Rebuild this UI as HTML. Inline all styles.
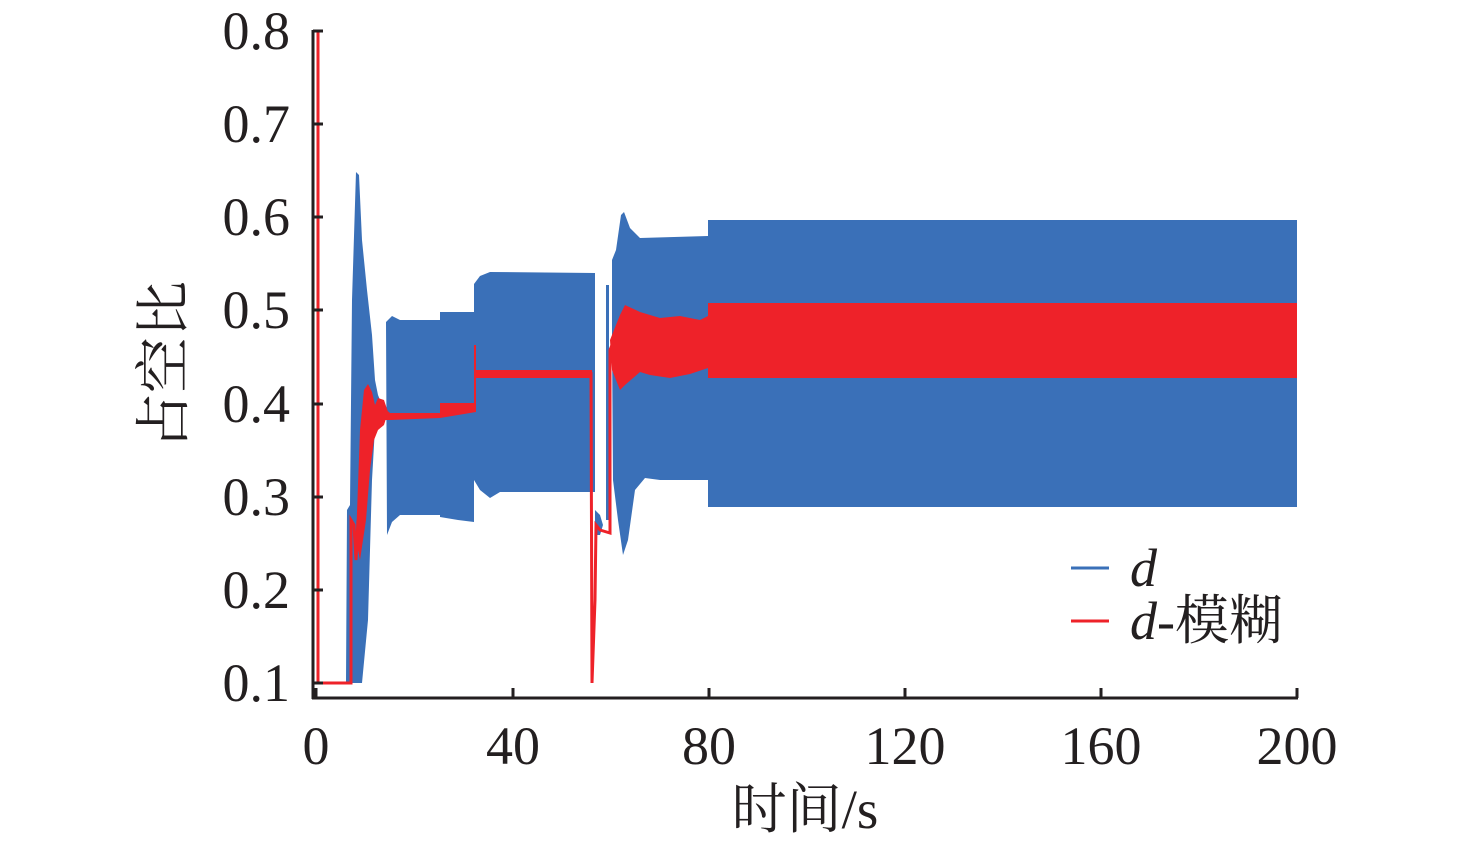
<!DOCTYPE html>
<html><head><meta charset="utf-8"><style>
html,body{margin:0;padding:0;background:#fff;}
svg{display:block;}
text{font-family:"Liberation Serif",serif;fill:#231f20;}
.cjk{font-family:"Noto Serif CJK SC","Noto Sans CJK SC",serif;}
</style></head><body>
<svg width="1476" height="846" viewBox="0 0 1476 846" xmlns="http://www.w3.org/2000/svg">
<g fill="#3a70b8" stroke="none">
<polygon points="346,683 347,510 350,505 352,300 356,172 359,175 362,240 367,290 372,335 375,380 378,395 380,400 376,410 372,480 368,620 362,683 350,683"/>
<polygon points="386,322 392,316 400,320 440,320 440,312 474,312 474,522 458,520 440,517 440,515 400,515 392,522 387,535"/>
<polygon points="474,284 480,276 490,272 595,273 595,492 500,492 490,498 480,490 474,480"/>
<polygon points="595,510 600,515 603,525 600,535 595,535"/>
<polygon points="606,285 609,285 609,520 606,520"/>
<polygon points="612,260 616,250 621,215 624,212 630,228 640,238 708,236 708,220 1297,220 1297,507 708,507 708,480 660,480 645,478 635,490 628,540 623,555 618,520 613,480 612,340"/>
</g>
<g fill="#ee2229" stroke="#ee2229">
<polyline points="318,683 318,31" fill="none" stroke-width="3"/>
<polyline points="313,683 351,683 351,520 354,525 356,560 358,520" fill="none" stroke-width="3"/>
<polygon points="356,540 360,430 364,390 368,384 372,392 375,405 378,398 384,400 388,412 384,425 378,430 374,440 370,470 366,520 360,560" stroke="none"/>
<polygon points="384,408 390,413 440,413 440,403 474,403 474,345 476,345 476,370 592,370 592,378 476,378 476,412 440,418 390,420 384,420" stroke="none"/>
<polyline points="591,372 592,683 595,600 596,525 600,530 610,533 610,350 612,345" fill="none" stroke-width="3"/>
<polygon points="610,340 620,315 625,305 640,312 660,318 680,316 700,320 708,316 708,303 1297,303 1297,378 708,378 708,368 690,374 670,378 650,375 640,372 625,385 620,390 612,370" stroke="none"/>
</g>
<g stroke="#231f20" stroke-width="3" fill="none">
<line x1="313" y1="30" x2="313" y2="699"/>
<line x1="312" y1="698" x2="1298" y2="698"/>
<line x1="313" y1="31" x2="323" y2="31"/>
<line x1="313" y1="124" x2="323" y2="124"/>
<line x1="313" y1="217" x2="323" y2="217"/>
<line x1="313" y1="310" x2="323" y2="310"/>
<line x1="313" y1="404" x2="323" y2="404"/>
<line x1="313" y1="497" x2="323" y2="497"/>
<line x1="313" y1="590" x2="323" y2="590"/>
<line x1="313" y1="683" x2="323" y2="683"/>
<line x1="316" y1="698" x2="316" y2="688"/>
<line x1="513" y1="698" x2="513" y2="688"/>
<line x1="709" y1="698" x2="709" y2="688"/>
<line x1="905" y1="698" x2="905" y2="688"/>
<line x1="1101" y1="698" x2="1101" y2="688"/>
<line x1="1297" y1="698" x2="1297" y2="688"/>
</g>
<g font-size="54" text-anchor="end">
<text x="290" y="49">0.8</text>
<text x="290" y="142">0.7</text>
<text x="290" y="235">0.6</text>
<text x="290" y="328">0.5</text>
<text x="290" y="422">0.4</text>
<text x="290" y="515">0.3</text>
<text x="290" y="608">0.2</text>
<text x="290" y="701">0.1</text>
</g>
<g font-size="54" text-anchor="middle">
<text x="316" y="764">0</text>
<text x="513" y="764">40</text>
<text x="709" y="764">80</text>
<text x="905" y="764">120</text>
<text x="1101" y="764">160</text>
<text x="1297" y="764">200</text>
</g>
<text x="805" y="828" font-size="55" text-anchor="middle"><tspan class="cjk">时间</tspan>/s</text>
<text class="cjk" font-size="56" text-anchor="middle" transform="translate(183,365) rotate(-90)">占空比</text>
<line x1="1071" y1="568" x2="1109" y2="568" stroke="#3a70b8" stroke-width="3"/>
<line x1="1071" y1="621" x2="1109" y2="621" stroke="#ee2229" stroke-width="3"/>
<text x="1130" y="586" font-size="54" font-style="italic">d</text>
<text x="1130" y="639" font-size="54"><tspan font-style="italic">d</tspan>-<tspan class="cjk">模糊</tspan></text>
</svg>
</body></html>
